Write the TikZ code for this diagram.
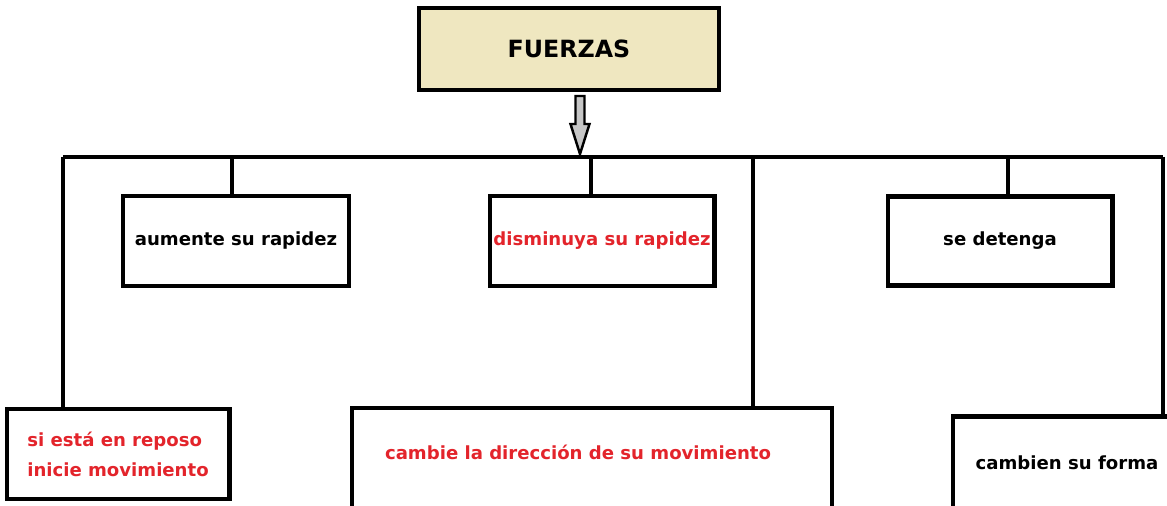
\documentclass[tikz,border=0pt]{standalone}
\usepackage{fontspec}
\setmainfont{DejaVu Sans}
\usepackage{tikz}
\usetikzlibrary{calc}

\definecolor{beige}{HTML}{EFE7C0}
\definecolor{rojo}{HTML}{E3242B}

\begin{document}
\begin{tikzpicture}[x=0.02cm,y=-0.02cm,line width=2.1pt]
            \tikzstyle{box}=[rectangle,draw=black,line width=2.3pt,fill=white,inner sep=0pt,font=\bfseries\fontsize{10.3}{17}\selectfont]
            \tikzstyle{label}=[inner sep=0pt,align=left,font=\bfseries\fontsize{10.3}{17}\selectfont]
            \tikzstyle{redtext}=[text=rojo]
            \useasboundingbox (0,0) rectangle (1167,506);

                    \node[box,fill=beige,minimum width=6cm,minimum height=1.64cm,font=\bfseries\fontsize{13.5}{15}\selectfont] (F) at (569,49) {FUERZAS};
                    \node[box,minimum width=4.52cm,minimum height=1.8cm] (B-1) at (236,241) {aumente su rapidez};
                    \node[box,redtext,minimum width=4.5cm,minimum height=1.8cm] (B-2) at (602,241) {disminuya su rapidez};
                    \node[box,minimum width=4.5cm,minimum height=1.78cm] (B-3) at (1000,241) {se detenga};
                    \node[box,redtext,align=left,minimum width=4.46cm,minimum height=1.8cm] (B-4) at (118,454) {si está en reposo\\inicie movimiento};
                    \node[box,minimum width=9.62cm,minimum height=3.04cm] (B-5) at (592,484) {};
                    \node[box,minimum width=5.94cm,minimum height=2.86cm] (B-6) at (1101,488) {};
                    \node[label,redtext] (T-5) at (578,452) {cambie la dirección de su movimiento};
                    \node[label] (T-6) at (1067,463) {cambien su forma};

                % bar under the title
                \coordinate (bar-L) at (63,157);
                \coordinate (bar-R) at (1163,157);
                \draw (bar-L) -- (bar-R);

                \foreach \n/\x in {1/232, 2/591, 3/1008, 4/63, 5/753, 6/1163}{
                    \coordinate (J-\n) at (\x,157);
                    \draw (J-\n) -- (J-\n |- B-\n.north);
                }

                % hollow arrow from the title
                \coordinate (A) at (F.south -| 580,0);
                \draw[fill=gray!45,line width=1.4pt,line join=miter] ($(A)+(-4.5,4)$) -- ++(9,0) -- ++(0,28) -- ++(5,0) -- ++(-9.5,30) -- ++(-9.5,-30) -- ++(5,0) -- cycle;
        \end{tikzpicture}
\end{document}
